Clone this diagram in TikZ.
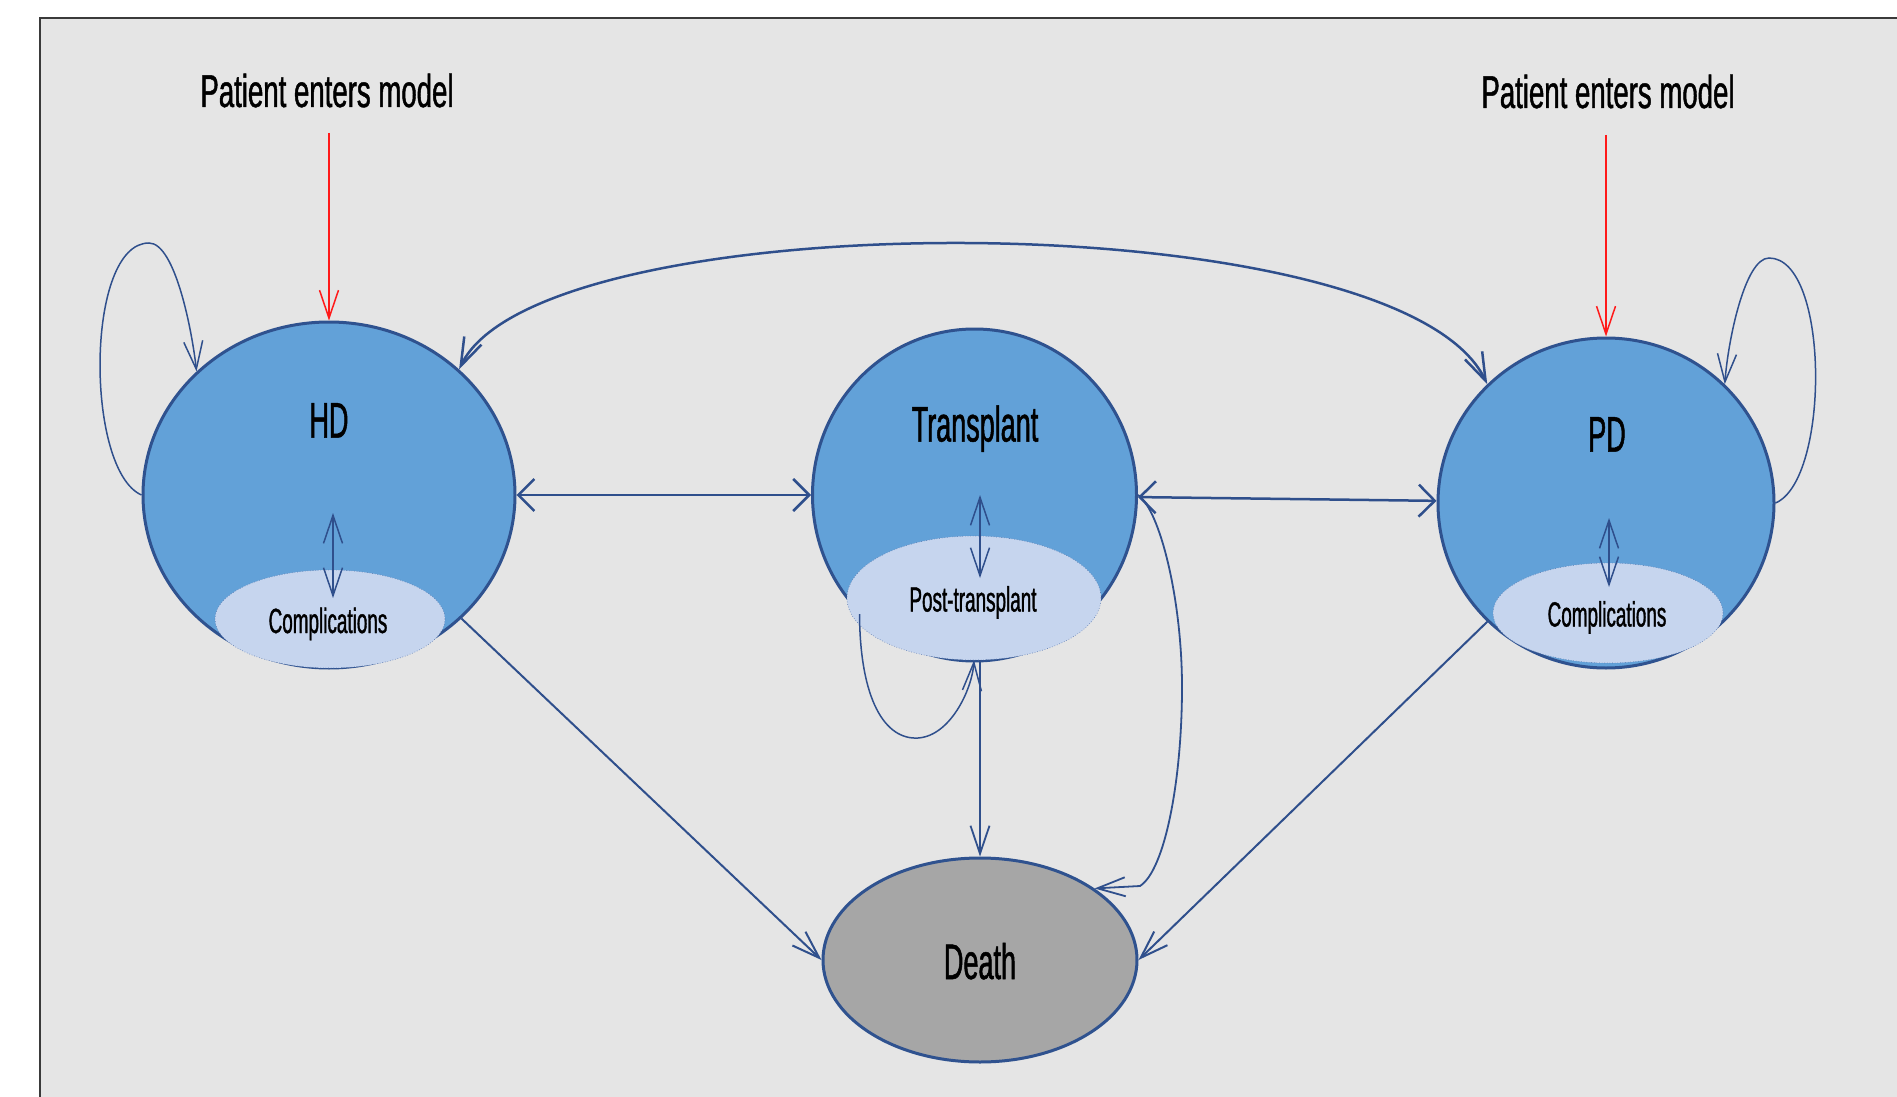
\documentclass[tikz,border=0pt]{standalone}
\usepackage{fontspec}
\setmainfont[FakeStretch=0.54,FakeBold=1.0]{Liberation Sans}
\newfontfamily\entryfont[FakeStretch=0.6,FakeBold=1.0]{Liberation Sans}
\usetikzlibrary{shapes.geometric,arrows.meta}
\definecolor{bgc}{HTML}{E5E5E5}
\definecolor{framec}{HTML}{3A3A3A}
\definecolor{statefill}{HTML}{62A1D8}
\definecolor{stateline}{HTML}{2F528F}
\definecolor{subfill}{HTML}{C6D5EE}
\definecolor{subline}{HTML}{5A78AE}
\definecolor{arrc}{HTML}{2F4F8C}
\definecolor{deathfill}{HTML}{A6A6A6}
\definecolor{entryred}{HTML}{FF1A1A}
\newcommand\labfont{\fontsize{25pt}{30pt}\selectfont}
\newcommand\sublabfont{\fontsize{17.5pt}{21pt}\selectfont}
\newcommand\entrylabfont{\entryfont\fontsize{23pt}{27pt}\selectfont}
\tikzset{
  nb/.tip={Straight Barb[length=14pt,width=9.5pt]},
  wb/.tip={Straight Barb[length=8pt,width=16pt]},
  bigstate/.style={ellipse, draw=stateline, line width=1.5pt, fill=statefill, inner sep=0pt},
  substate/.style={ellipse, draw=subline, line width=0.3pt, densely dotted, fill=subfill, inner sep=0pt},
  lbl/.style={anchor=base, inner sep=0pt, text=black},
  conn/.style={draw=arrc, line width=1pt},
  thickconn/.style={draw=arrc, line width=1.25pt},
  thinconn/.style={draw=arrc, line width=0.75pt},
  entryarrow/.style={draw=entryred, line width=0.75pt, -nb},
}
\begin{document}
\begin{tikzpicture}[x=0.5pt,y=-0.5pt]
\useasboundingbox (0,0) rectangle (1897,1097);
\fill[white] (0,0) rectangle (1897,1097);
\clip (0,0) rectangle (1897,1097);
\draw[fill=bgc, draw=framec, line width=1pt] (40,18.5) rectangle (1920,1120);

% states
\node[bigstate, minimum width=186pt, minimum height=173pt] (hd) at (329,495) {};
\node[bigstate, minimum width=162pt, minimum height=166pt] (tx) at (974.5,495) {};
\node[bigstate, minimum width=168pt, minimum height=165pt] (pd) at (1606,503) {};
\node[bigstate, fill=deathfill, minimum width=157pt, minimum height=102pt] (death) at (980,960) {};

% sub-states
\node[substate, minimum width=115pt, minimum height=49pt] (hdc) at (330,619) {};
\node[substate, minimum width=127pt, minimum height=62pt] (ptc) at (974,598) {};
\node[substate, minimum width=115pt, minimum height=50pt] (pdc) at (1608,613) {};

% labels
\node[lbl, font=\labfont] (hdl) at (329,437.5) {HD};
\node[lbl, font=\labfont] (txl) at (975,441.5) {Transplant};
\node[lbl, font=\labfont] (pdl) at (1607,451.5) {PD};
\node[lbl, font=\labfont] (deathl) at (980,979) {Death};
\node[lbl, font=\sublabfont] (hdcl) at (328,633) {Complications};
\node[lbl, font=\sublabfont] (ptcl) at (973,611.5) {Post-transplant};
\node[lbl, font=\sublabfont] (pdcl) at (1607,626.5) {Complications};
\node[lbl, font=\entrylabfont] (inhdl) at (327,107) {Patient enters model};
\node[lbl, font=\entrylabfont] (inpdl) at (1608,108) {Patient enters model};

% entry arrows
\coordinate (hdin) at (329,133);
\coordinate (pdin) at (1606,135);
\draw[entryarrow] (hdin) -- (hd.north);
\draw[entryarrow] (pdin) -- (pd.north);

% horizontal transitions
\draw[thickconn, wb-wb] (hd) -- (tx);
\draw[thickconn, wb-wb] (tx) -- (pd);

% top arc HD <-> PD
\draw[thickconn, nb-nb] (hd.44) .. controls (540,200) and (1400,200) .. (pd.135);

% to death
\draw[conn, -nb] (hd.-43) -- (death.west);
\draw[conn, -nb] (pd.-135) -- (death.east);
\draw[thinconn, line width=0.9pt, -nb] (death.north |- ptc.south) -- (death.north);
\draw[thinconn, line width=0.9pt, -nb] (tx.east) .. controls (1160,510) and (1182,600) .. (1182,687)
   .. controls (1182,780) and (1165,870) .. (1140,886) -- (death.32);

% self loops
\draw[thinconn, -nb] (hd.180) .. controls (85,470) and (85,243) .. (149,243)
   .. controls (175,243) and (192,330) .. (hd.137);
\draw[thinconn, -nb] (pd.east) .. controls (1830,480) and (1830,258) .. (1769,258)
   .. controls (1745,258) and (1728,340) .. (pd.45);
\draw[thinconn, -nb] (tx.-134) .. controls (860,700) and (885,740) .. (918,738)
   .. controls (950,736) and (972,690) .. (ptc.south);

% inner double arrows
\coordinate (hdua) at (333,513);
\coordinate (hdub) at (333,598);
\coordinate (txua) at (980,495);
\coordinate (txub) at (980,578);
\coordinate (pdua) at (1609,518);
\coordinate (pdub) at (1609,587);
\draw[thinconn, nb-nb] (hdua) -- (hdub);
\draw[thinconn, nb-nb] (txua) -- (txub);
\draw[thinconn, nb-nb] (pdua) -- (pdub);
\end{tikzpicture}
\end{document}
